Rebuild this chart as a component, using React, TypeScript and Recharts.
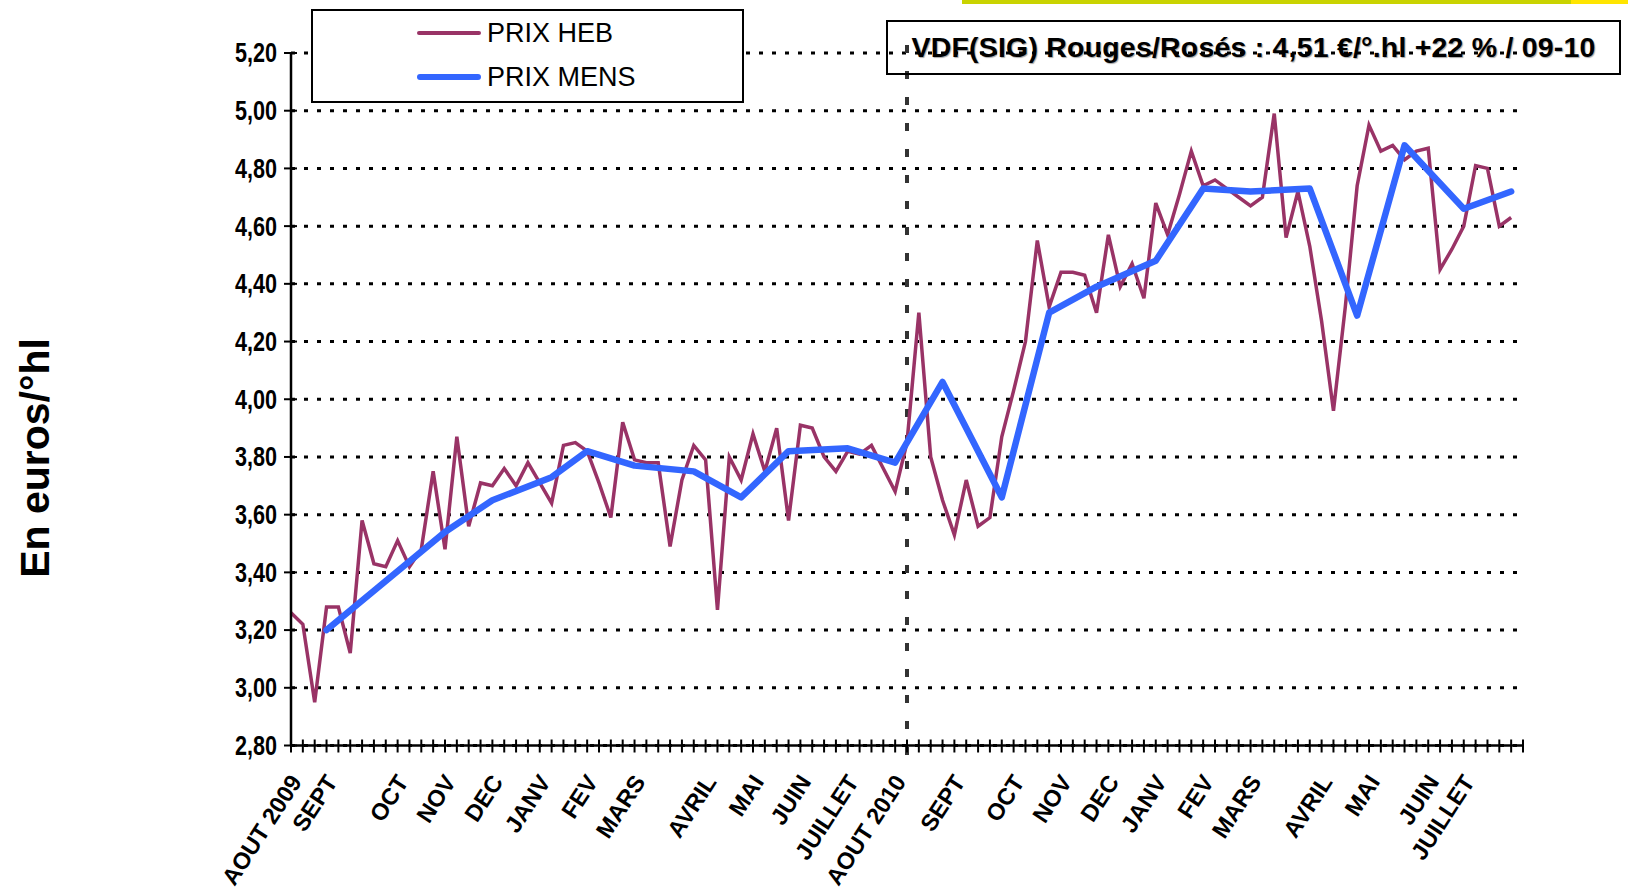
import { LineChart, Line, XAxis, YAxis, CartesianGrid, ReferenceLine, Legend } from 'recharts';

// weekly price, AOUT 2009 -> AOUT 2011 (last category empty)
const hebPrices = [
  3.26, 3.22, 2.95, 3.28, 3.28, 3.12, 3.58, 3.43, 3.42, 3.51,
  3.42, 3.48, 3.75, 3.48, 3.87, 3.56, 3.71, 3.70, 3.76, 3.70,
  3.78, 3.71, 3.64, 3.84, 3.85, 3.82, 3.71, 3.59, 3.92, 3.79,
  3.78, 3.78, 3.49, 3.72, 3.84, 3.79, 3.27, 3.80, 3.72, 3.88,
  3.75, 3.90, 3.58, 3.91, 3.90, 3.80, 3.75, 3.82, 3.81, 3.84,
  3.76, 3.68, 3.85, 4.30, 3.80, 3.65, 3.53, 3.72, 3.56, 3.59,
  3.87, 4.03, 4.20, 4.55, 4.32, 4.44, 4.44, 4.43, 4.30, 4.57,
  4.39, 4.47, 4.35, 4.68, 4.57, 4.71, 4.86, 4.74, 4.76, 4.73,
  4.70, 4.67, 4.70, 4.99, 4.56, 4.72, 4.53, 4.27, 3.96, 4.32,
  4.74, 4.95, 4.86, 4.88, 4.83, 4.86, 4.87, 4.45, 4.52, 4.60,
  4.81, 4.80, 4.60, 4.63, null,
];

// monthly price, placed on its week
const mensWeeks = [3, 8, 13, 17, 22, 25, 29, 34, 38, 42, 47, 51, 55, 60, 64, 68, 73, 77, 81, 86, 90, 94, 99, 103];
const mensPrices = [3.20, 3.37, 3.54, 3.65, 3.73, 3.82, 3.77, 3.75, 3.66, 3.82, 3.83, 3.78, 4.06, 3.66, 4.30, 4.39, 4.48, 4.73, 4.72, 4.73, 4.29, 4.88, 4.66, 4.72];

const monthWeeks = [0, 3, 9, 13, 17, 21, 25, 29, 35, 39, 43, 47, 51, 56, 61, 65, 69, 73, 77, 81, 87, 91, 96, 99];
const monthLabels = ['AOUT 2009', 'SEPT', 'OCT', 'NOV', 'DEC', 'JANV', 'FEV', 'MARS', 'AVRIL', 'MAI', 'JUIN', 'JUILLET', 'AOUT 2010', 'SEPT', 'OCT', 'NOV', 'DEC', 'JANV', 'FEV', 'MARS', 'AVRIL', 'MAI', 'JUIN', 'JUILLET'];

const yTicks = [2.8, 3.0, 3.2, 3.4, 3.6, 3.8, 4.0, 4.2, 4.4, 4.6, 4.8, 5.0, 5.2];
const splitWeek = 52;

const font = '"Liberation Sans", Arial, sans-serif';

const data = hebPrices.map((heb, i) => {
  const m = mensWeeks.indexOf(i);
  return { week: i, heb, mens: m >= 0 ? mensPrices[m] : null };
});

function WeekTick({ x, y, payload }: any) {
  const k = monthWeeks.indexOf(payload.value);
  const tx = x + 5;
  const ty = y + 32;
  return (
    <g>
      <line x1={x} x2={x} y1={y - 6} y2={y + 7} stroke="#000" strokeWidth={2} />
      {k >= 0 && (
        <text
          x={tx}
          y={ty}
          transform={`rotate(-57 ${tx} ${ty})`}
          textAnchor="end"
          dominantBaseline="central"
          fontFamily={font}
          fontWeight="bold"
          fontSize={23.5}
          fill="#000"
        >
          {monthLabels[k]}
        </text>
      )}
    </g>
  );
}

function PriceTick({ x, y, payload }: any) {
  return (
    <g>
      <line x1={x - 7} x2={x + 6} y1={y} y2={y} stroke="#000" strokeWidth={2} />
      <text
        transform={`translate(${x - 14} ${y}) scale(0.8 1)`}
        textAnchor="end"
        dominantBaseline="central"
        fontFamily={font}
        fontWeight="bold"
        fontSize={27}
        fill="#000"
      >
        {payload.value.toFixed(2).replace('.', ',')}
      </text>
    </g>
  );
}

function LegendBox({ payload }: any) {
  return (
    <div style={{ width: 433, height: 94, boxSizing: 'border-box', border: '2px solid #000', background: '#fff', position: 'relative', fontFamily: font, fontSize: 27 }}>
      {(payload || []).map((p: any, i: number) => (
        <div key={p.value} style={{ position: 'absolute', left: 104, top: i === 0 ? 2 : 46, height: 40, display: 'flex', alignItems: 'center' }}>
          <div style={{ width: 64, height: i === 0 ? 3.5 : 6.5, borderRadius: 3, background: p.color, marginRight: 6 }} />
          <span style={{ color: '#000' }}>{p.value}</span>
        </div>
      ))}
    </div>
  );
}

export default function App() {
  return (
    <div style={{ position: 'absolute', left: 0, top: 0, width: 1628, height: 890, background: '#fff', overflow: 'hidden' }}>
      <div style={{ position: 'absolute', left: 962, top: 0, width: 609, height: 4, background: '#c9d300' }} />
      <div style={{ position: 'absolute', left: 1571, top: 0, width: 57, height: 4, background: '#ffe500' }} />
      <LineChart width={1628} height={890} data={data} margin={{ top: 53, right: 105, bottom: 0, left: 0 }}>
        <CartesianGrid vertical={false} stroke="#000" strokeWidth={3} strokeDasharray="4 9" />
        <XAxis
          dataKey="week"
          type="category"
          interval={0}
          height={144.5}
          tickSize={0}
          tickMargin={0}
          tickLine={false}
          axisLine={{ stroke: '#000', strokeWidth: 2.5 }}
          tick={<WeekTick />}
        />
        <YAxis
          domain={[2.8, 5.2]}
          ticks={yTicks}
          width={291}
          tickSize={0}
          tickMargin={0}
          tickLine={false}
          axisLine={{ stroke: '#000', strokeWidth: 2.5 }}
          tick={<PriceTick />}
          label={{
            content: () => (
              <text x={35} y={458} transform="rotate(-90 35 458)" textAnchor="middle" dominantBaseline="central" fontFamily={font} fontWeight="bold" fontSize={41} fill="#000">
                En euros/°hl
              </text>
            ),
          }}
        />
        <ReferenceLine
          x={splitWeek}
          stroke="#333"
          shape={(p: any) => (
            <line x1={p.x1} x2={p.x2} y1={Math.min(p.y1, p.y2) - 8} y2={Math.max(p.y1, p.y2) + 14} stroke="#333" strokeWidth={4} strokeDasharray="8 18" />
          )}
        />
        <Legend
          layout="horizontal"
          verticalAlign="middle"
          align="center"
          wrapperStyle={{ left: 311, top: 9, width: 433, height: 94 }}
          content={<LegendBox />}
        />
        <Line name="PRIX HEB" dataKey="heb" type="linear" stroke="#993366" strokeWidth={3.5} dot={false} activeDot={false} isAnimationActive={false} />
        <Line name="PRIX MENS" dataKey="mens" type="linear" stroke="#3366ff" strokeWidth={6.5} strokeLinejoin="round" strokeLinecap="round" dot={false} activeDot={false} connectNulls isAnimationActive={false} />
      </LineChart>
      <div
        style={{
          position: 'absolute', left: 886, top: 20, width: 735, height: 55, boxSizing: 'border-box', border: '2px solid #000',
          display: 'flex', alignItems: 'center', justifyContent: 'center', fontFamily: font, fontWeight: 'bold', fontSize: 28.5,
          letterSpacing: 0.2, color: '#000', textShadow: '1px 1px 1px rgba(0,0,0,0.35)', whiteSpace: 'nowrap',
        }}
      >
        VDF(SIG) Rouges/Rosés : 4,51 €/°.hl +22 % / 09-10
      </div>
    </div>
  );
}
